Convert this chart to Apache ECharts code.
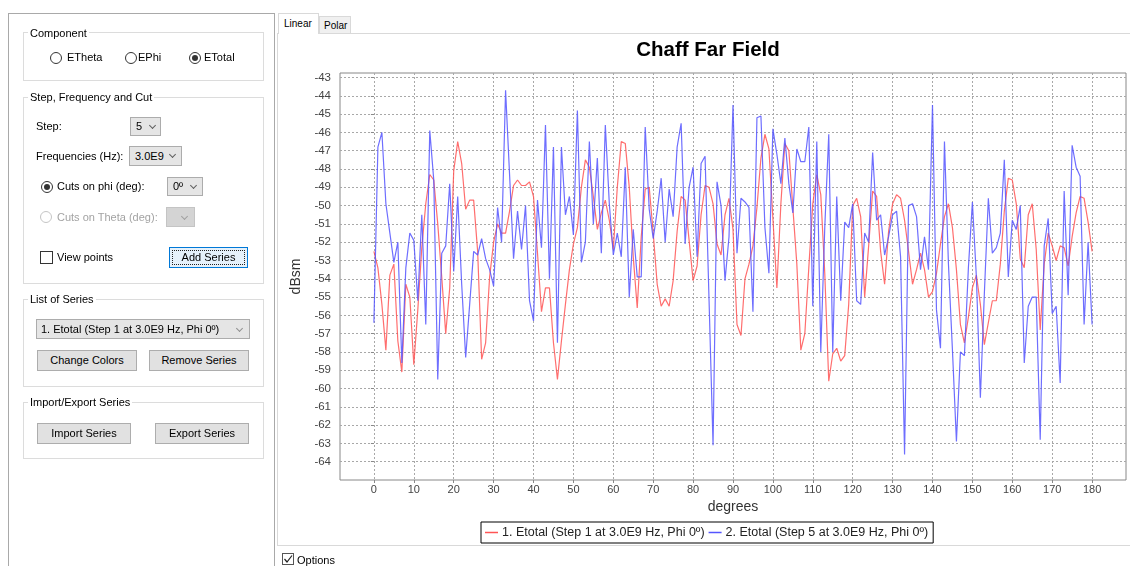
<!DOCTYPE html>
<html>
<head>
<meta charset="utf-8">
<script src="https://cdn.jsdelivr.net/npm/echarts@6/dist/echarts.min.js"></script>
<style>
  body { margin: 0; width: 1130px; height: 566px; overflow: hidden; background: #fff;
         font-family: "Liberation Sans", Arial, sans-serif; font-size: 11px; color: #000; position: relative; }
  #chart { position: absolute; left: 0; top: 0; width: 1130px; height: 566px; }
  .ui { position: absolute; box-sizing: border-box; }
  .t { position: absolute; white-space: nowrap; line-height: 13px; height: 13px; }
  .lbl { background: #fff; padding: 0 2px; }
  .gb { position: absolute; box-sizing: border-box; border: 1px solid #dcdcdc; }
  .rd { position: absolute; box-sizing: border-box; width: 12px; height: 12px; border: 1px solid #333; border-radius: 50%; background: #fff; }
  .rd.on::after { content: ""; position: absolute; left: 2px; top: 2px; width: 6px; height: 6px; border-radius: 50%; background: #333; }
  .rd.off { border-color: #c4c4c4; }
  .cb { position: absolute; box-sizing: border-box; width: 13px; height: 13px; border: 1px solid #333; background: #fff; }
  .combo { position: absolute; box-sizing: border-box; background: #e5e5e5; border: 1px solid #acacac; padding-left: 5px; white-space: nowrap; }
  .combo.dis { background: #d4d4d4; border-color: #c4c4c4; }
  .chev { position: absolute; width: 4px; height: 4px; border-right: 1px solid #606060; border-bottom: 1px solid #606060; transform: rotate(45deg); }
  .btn { position: absolute; box-sizing: border-box; background: #e1e1e1; border: 1px solid #adadad; text-align: center; white-space: nowrap; }
  .btn.focus { border: 1px solid #0078d7; background: #e5f1fb; }
  .btn.focus::after { content: ""; position: absolute; left: 2px; top: 2px; right: 2px; bottom: 2px; border: 1px dotted #222; }
  .tab { position: absolute; box-sizing: border-box; border: 1px solid #d9d9d9; border-bottom: none; font-size: 10px; white-space: nowrap; }
</style>
</head>
<body>
<div id="chart"></div>

<!-- left control panel -->
<div class="ui" style="left:8px;top:13px;width:267px;height:560px;border:1px solid #a9a9a9;"></div>

<div class="gb" style="left:23px;top:32px;width:241px;height:49px;"></div>
<div class="t lbl" style="left:28px;top:27px;">Component</div>
<div class="rd" style="left:50px;top:52px;"></div>
<div class="t" style="left:67px;top:51px;">ETheta</div>
<div class="rd" style="left:125px;top:52px;"></div>
<div class="t" style="left:138px;top:51px;">EPhi</div>
<div class="rd on" style="left:189px;top:52px;"></div>
<div class="t" style="left:204px;top:51px;">ETotal</div>

<div class="gb" style="left:23px;top:97px;width:241px;height:187px;"></div>
<div class="t lbl" style="left:28px;top:91px;">Step, Frequency and Cut</div>
<div class="t" style="left:36px;top:120px;">Step:</div>
<div class="combo" style="left:130px;top:117px;width:31px;height:19px;line-height:17px;">5<span class="chev" style="left:19px;top:5px;"></span></div>
<div class="t" style="left:36px;top:150px;">Frequencies (Hz):</div>
<div class="combo" style="left:129px;top:146px;width:53px;height:20px;line-height:18px;">3.0E9<span class="chev" style="left:40px;top:5px;"></span></div>
<div class="rd on" style="left:41px;top:181px;"></div>
<div class="t" style="left:57px;top:180px;">Cuts on phi (deg):</div>
<div class="combo" style="left:167px;top:177px;width:36px;height:19px;line-height:17px;">0º<span class="chev" style="left:23px;top:5px;"></span></div>
<div class="rd off" style="left:40px;top:211px;"></div>
<div class="t" style="left:57px;top:211px;color:#a3a3a3;">Cuts on Theta (deg):</div>
<div class="combo dis" style="left:166px;top:207px;width:29px;height:20px;"><span class="chev" style="left:15px;top:6px;border-color:#a0a0a0;"></span></div>
<div class="cb" style="left:40px;top:251px;"></div>
<div class="t" style="left:57px;top:251px;">View points</div>
<div class="btn focus" style="left:169px;top:247px;width:79px;height:21px;line-height:19px;">Add Series</div>

<div class="gb" style="left:23px;top:299px;width:241px;height:88px;"></div>
<div class="t lbl" style="left:28px;top:293px;">List of Series</div>
<div class="combo" style="left:36px;top:319px;width:214px;height:20px;line-height:18px;padding-left:4px;">1. Etotal (Step 1 at 3.0E9 Hz, Phi 0º)<span class="chev" style="left:200px;top:6px;border-color:#909090;"></span></div>
<div class="btn" style="left:37px;top:350px;width:100px;height:21px;line-height:19px;">Change Colors</div>
<div class="btn" style="left:149px;top:350px;width:100px;height:21px;line-height:19px;">Remove Series</div>

<div class="gb" style="left:23px;top:402px;width:241px;height:57px;"></div>
<div class="t lbl" style="left:28px;top:396px;">Import/Export Series</div>
<div class="btn" style="left:37px;top:423px;width:94px;height:21px;line-height:19px;">Import Series</div>
<div class="btn" style="left:155px;top:423px;width:94px;height:21px;line-height:19px;">Export Series</div>

<!-- tab frame -->
<div class="ui" style="left:277px;top:33px;width:870px;height:513px;border:1px solid #d9d9d9;"></div>
<div class="tab" style="left:278px;top:13px;width:41px;height:21px;background:#fff;line-height:20px;padding-left:5px;">Linear</div>
<div class="tab" style="left:319px;top:16px;width:32px;height:17px;background:#f0f0f0;line-height:17px;padding-left:4px;">Polar</div>
<div class="cb" style="left:282px;top:553px;width:12px;height:12px;border-color:#555;">
  <svg width="10" height="10" style="position:absolute;left:0;top:0"><polyline points="1.5,5 4,8 9,1.5" fill="none" stroke="#222" stroke-width="1.2"/></svg>
</div>
<div class="t" style="left:297px;top:554px;">Options</div>

<script>
// angle step is 1 degree, 0..180
var redDb = [
  -52.5, -53.4, -55.4, -57.9, -53.8, -53.2, -57.4, -59.1, -54.3, -55.0,
  -58.7, -55.7, -52.3, -49.9, -48.3, -48.6, -51.0, -53.9, -57.0, -54.5,
  -48.1, -46.5, -47.7, -50.2, -49.7, -49.7, -52.5, -58.4, -57.5, -53.9,
  -52.0, -51.0, -51.5, -51.5, -50.3, -48.9, -48.6, -48.9, -48.9, -48.7,
  -49.5, -52.6, -55.8, -54.5, -54.5, -57.5, -59.5, -57.4, -55.4, -53.5,
  -52.1, -51.2, -49.0, -47.5, -47.9, -49.5, -51.3, -50.4, -49.7, -50.8,
  -52.4, -49.0, -46.5, -46.6, -49.0, -52.8, -55.6, -51.7, -49.1, -49.0,
  -51.5, -54.3, -55.5, -55.1, -55.5, -54.1, -51.4, -49.5, -49.7, -51.9,
  -54.1, -53.3, -50.5, -48.9, -49.0, -49.9, -52.1, -52.7, -50.5, -49.6,
  -51.3, -56.5, -57.1, -54.0, -53.2, -52.2, -50.1, -47.4, -46.1, -46.9,
  -50.7, -54.5, -49.9, -46.6, -47.0, -50.1, -53.2, -57.9, -57.0, -53.4,
  -49.9, -48.3, -49.4, -53.7, -59.6, -58.1, -57.8, -58.5, -58.2, -55.4,
  -50.0, -49.6, -50.6, -55.0, -52.2, -49.2, -49.5, -52.5, -54.3, -51.4,
  -49.9, -49.4, -49.6, -50.8, -52.5, -54.3, -53.5, -52.6, -53.5, -55.0,
  -54.7, -53.7, -52.1, -50.6, -49.9, -51.2, -53.5, -56.5, -57.5, -56.1,
  -54.5, -53.8, -55.4, -57.6, -56.4, -55.2, -55.2, -53.2, -50.3, -48.5,
  -48.6, -49.9, -52.9, -53.4, -50.5, -49.9, -52.4, -56.8, -53.2, -51.5,
  -52.2, -53.0, -52.2, -52.3, -53.3, -51.7, -50.4, -49.5, -49.6, -50.9,
  -52.5
];
var blueDb = [
  -56.4, -46.8, -46.0, -49.9, -51.5, -53.1, -52.0, -58.6, -53.4, -51.5,
  -51.9, -55.2, -50.5, -56.5, -45.9, -48.6, -59.5, -52.6, -52.2, -48.8,
  -53.6, -49.5, -54.3, -58.3, -55.4, -52.5, -52.7, -51.8, -52.9, -53.5,
  -54.4, -50.1, -52.0, -43.7, -48.3, -52.9, -50.3, -52.4, -50.0, -55.2,
  -56.3, -49.7, -52.3, -45.6, -54.0, -46.8, -57.5, -46.8, -50.5, -49.5,
  -51.6, -44.8, -53.1, -52.0, -46.5, -51.0, -47.4, -52.6, -45.6, -49.9,
  -52.7, -51.5, -52.8, -47.9, -55.0, -51.3, -53.9, -53.9, -45.7, -50.2,
  -51.8, -50.3, -48.5, -52.0, -49.1, -50.6, -46.8, -45.5, -52.1, -49.0,
  -47.9, -52.8, -47.7, -47.3, -55.2, -63.1, -48.7, -50.0, -54.1, -51.7,
  -44.5, -52.6, -49.6, -49.8, -50.1, -55.8, -45.2, -45.1, -51.2, -53.7,
  -45.8, -47.2, -48.8, -46.3, -48.8, -50.4, -46.9, -47.6, -47.6, -45.7,
  -55.5, -46.5, -58.0, -51.2, -46.1, -58.0, -49.5, -55.2, -50.9, -51.2,
  -49.9, -55.2, -55.4, -51.5, -52.0, -47.1, -50.8, -50.5, -52.7, -51.7,
  -50.5, -50.3, -52.8, -63.6, -50.0, -49.9, -50.6, -53.5, -51.7, -53.5,
  -44.5, -55.7, -57.8, -46.5, -53.2, -57.9, -62.9, -58.0, -58.2, -53.4,
  -49.8, -53.9, -60.5, -54.8, -49.6, -52.6, -52.3, -51.5, -47.5, -53.9,
  -50.8, -51.3, -50.0, -58.6, -55.5, -55.0, -55.0, -62.8, -52.2, -50.7,
  -55.9, -55.5, -59.7, -49.2, -54.9, -46.7, -47.9, -48.4, -56.5, -52.0,
  -56.5
];
var degTicks = [0, 10, 20, 30, 40, 50, 60, 70, 80, 90, 100, 110, 120, 130, 140, 150, 160, 170, 180];
var dbTicks = [-64, -63, -62, -61, -60, -59, -58, -57, -56, -55, -54, -53, -52, -51, -50, -49, -48, -47, -46, -45, -44, -43];
var seriesNames = [
  "1. Etotal (Step 1 at 3.0E9 Hz, Phi 0º)",
  "2. Etotal (Step 5 at 3.0E9 Hz, Phi 0º)"
];

function toPairs(arr) {
  return arr.map(function (v, i) { return [i, v]; });
}

var myChart = echarts.init(document.getElementById("chart"));
var option = {
  animation: false,
  textStyle: { fontFamily: "Liberation Sans, Arial, sans-serif" },
  title: {
    text: "Chaff Far Field",
    left: 708,
    top: 40,
    padding: 0,
    textAlign: "center",
    textStyle: { fontSize: 20.5, fontWeight: "bold", color: "#000" },
  },
  legend: {
    left: 481,
    top: 522,
    padding: [4, 5, 4, 4],
    itemGap: 4,
    itemWidth: 13,
    itemHeight: 1.5,
    icon: "rect",
    borderColor: "#000",
    borderWidth: 1,
    textStyle: { fontSize: 12.5, color: "#222", padding: [0, 0, 0, -1] },
    data: seriesNames,
  },
  grid: {
    left: 340,
    top: 73,
    right: 4,
    bottom: 86,
    show: true,
    borderColor: "#888",
    borderWidth: 1,
    backgroundColor: "#fff",
  },
  xAxis: {
    type: "value",
    min: -8.5,
    max: 188.5,
    name: "degrees",
    nameLocation: "middle",
    nameGap: 18,
    nameTextStyle: { fontSize: 14, color: "#333" },
    axisLine: { show: false },
    axisTick: { customValues: degTicks, length: 3, lineStyle: { color: "#888" } },
    axisLabel: { customValues: degTicks, color: "#444", fontSize: 11, margin: 4 },
    splitLine: { lineStyle: { color: "#a8a8a8", type: [2, 2], width: 1 } },
  },
  yAxis: {
    type: "value",
    min: -65,
    max: -42.75,
    name: "dBsm",
    nameLocation: "middle",
    nameGap: 31,
    nameTextStyle: { fontSize: 14, color: "#333" },
    axisLine: { show: false },
    axisTick: { customValues: dbTicks, length: 3, lineStyle: { color: "#888" } },
    axisLabel: { customValues: dbTicks, color: "#444", fontSize: 11.5, margin: 9 },
    splitLine: { lineStyle: { color: "#a8a8a8", type: [2, 2], width: 1 } },
  },
  series: [
    {
      name: seriesNames[0],
      type: "line",
      data: toPairs(redDb),
      symbol: "none",
      color: "#ff5555",
      lineStyle: { width: 1.2, color: "#ff5555", opacity: 0.85 },
    },
    {
      name: seriesNames[1],
      type: "line",
      data: toPairs(blueDb),
      symbol: "none",
      color: "#5555ff",
      lineStyle: { width: 1.2, color: "#5555ff", opacity: 0.85 },
    },
  ],
};
option && myChart.setOption(option);
</script>
</body>
</html>
